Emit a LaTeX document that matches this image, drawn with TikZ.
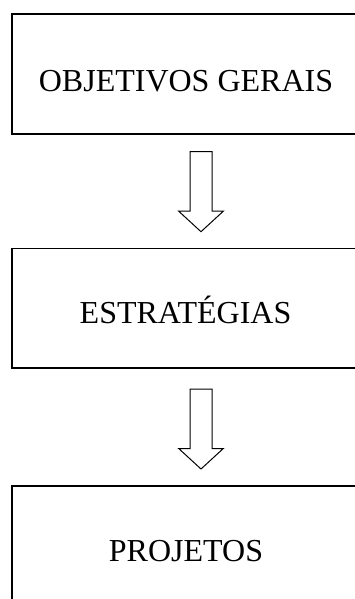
\documentclass[tikz,border=0pt]{standalone}
\usepackage{fontspec}
\setmainfont{Liberation Serif}
\begin{document}
\begin{tikzpicture}[x=1pt,y=-1pt,
  boxstyle/.style={draw=black, line width=1.6pt, rectangle, inner sep=0pt},
  lbl/.style={anchor=base, inner sep=0pt, font=\fontsize{32}{36}\selectfont},
  blockarr/.style={draw=black, line width=1pt, line join=miter, fill=white}]
\useasboundingbox (0,0) rectangle (355,599);
\clip (0,0) rectangle (355,599);
% boxes
\node[boxstyle, minimum width=350pt, minimum height=119.5pt, anchor=north west] (b1) at (11,13.5) {};
\node[boxstyle, minimum width=350pt, minimum height=119.5pt, anchor=north west] (b2) at (11,247.5) {};
\node[boxstyle, minimum width=350pt, minimum height=119.5pt, anchor=north west] (b3) at (11,485) {};
% labels
\node[lbl] (t1) at (186,92) {OBJETIVOS GERAIS};
\node[lbl] (t2) at (185.5,323.3) {ESTRATÉGIAS};
\node[lbl] (t3) at (186,561.7) {PROJETOS};
% block arrows
\coordinate (a1) at (201,151.7);
\coordinate (a2) at (201,389);
\foreach \a in {a1,a2}{
  \draw[blockarr] (\a) ++(-11,0) -- ++(22,0) -- ++(0,59.5) -- ++(11.3,0)
     -- ++(-22.3,20.5) -- ++(-22.3,-20.5) -- ++(11.3,0) -- cycle;
}
\end{tikzpicture}
\end{document}
